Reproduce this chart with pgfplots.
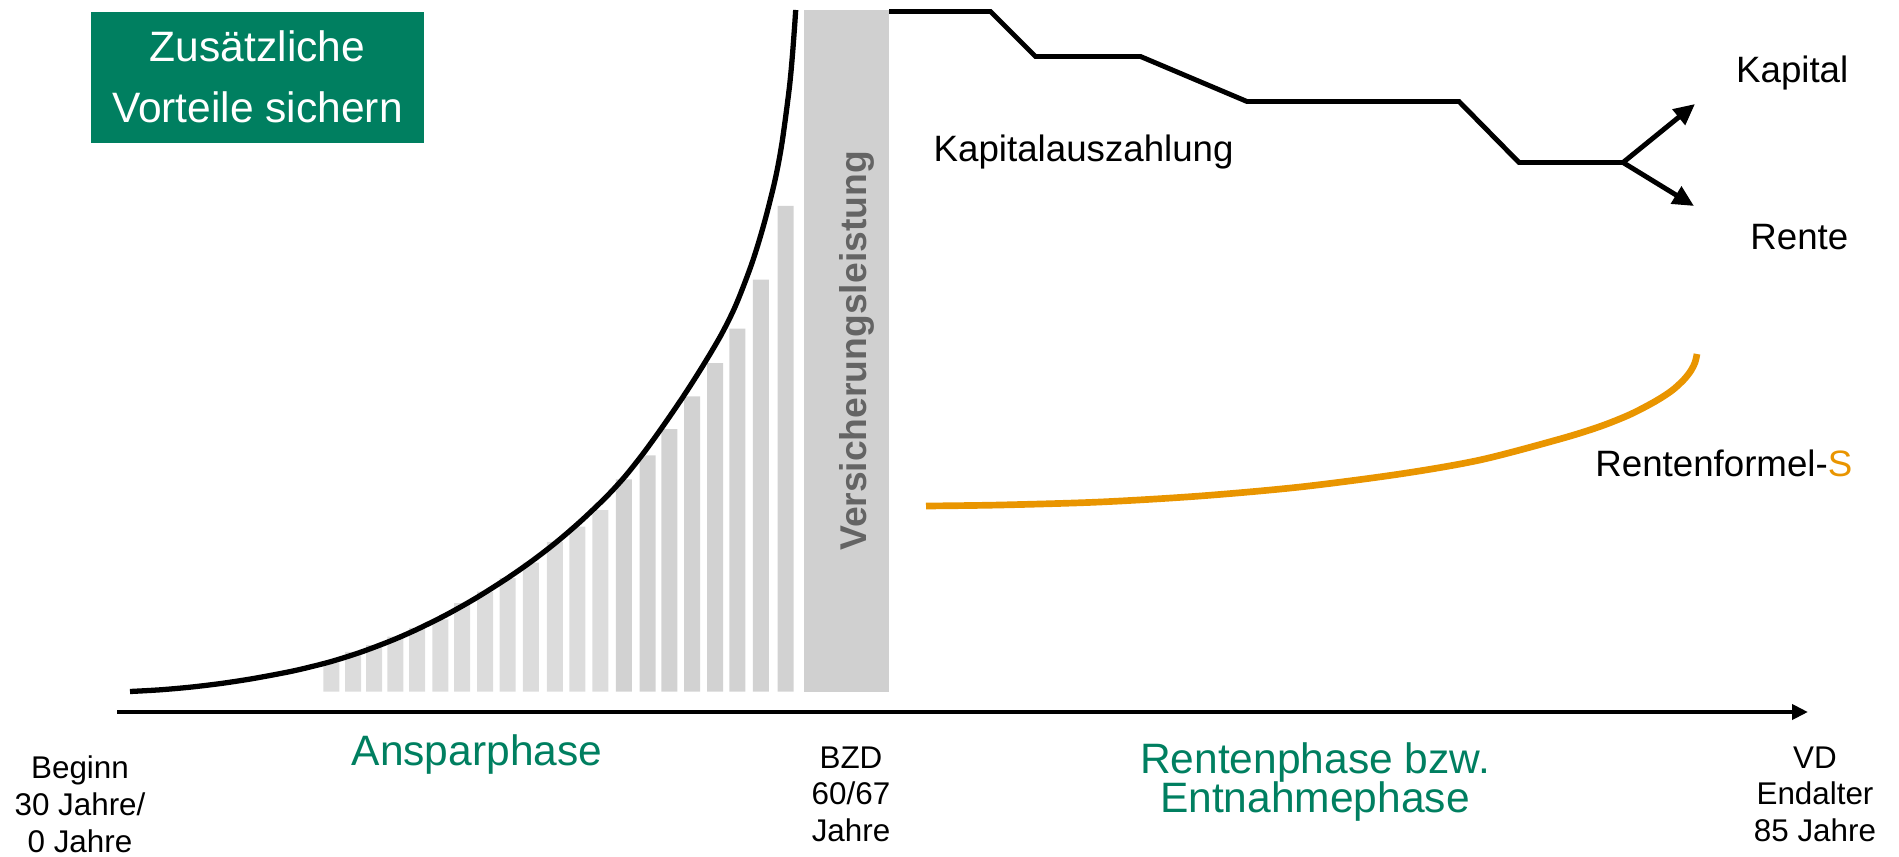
\documentclass[border=0pt]{standalone}
\usepackage{fontspec}
\setmainfont{Liberation Sans}
\usepackage{pgfplots}
\usepackage{pgfplotstable}
\pgfplotsset{compat=1.18}
\usetikzlibrary{arrows.meta}
\definecolor{sgreen}{HTML}{007F60}
\definecolor{sorange}{HTML}{E99500}
\definecolor{barA}{HTML}{DCDCDC}
\definecolor{barB}{HTML}{D2D2D2}
\definecolor{barC}{HTML}{D0D0D0}
\definecolor{vtext}{HTML}{646464}

\pgfplotstableread{
x h
331.3 29
353.1 39.6
374.1 46.4
395.3 55
417.1 63.6
440.4 72.2
462.0 88.4
485.0 99.8
507.7 113.5
530.9 129
554.9 149.6
577.4 165
600.4 181.3
}\barsA
\pgfplotstableread{
x h
623.9 212.2
647.5 236.2
669.3 262.4
692.2 295.1
715.2 328.4
737.4 362.8
760.8 412
785.5 485.6
}\barsB
\pgfplotstableread{
x h
846.5 681.5
}\bigbar
\pgfplotstableread{
x h
130 0
160 1.68
190 4.31
220 7.89
250 12.42
280 17.91
300 22.1
330 29.64
360 39.06
390 50.35
415 61.2
445 76.02
475 92.87
505 111.76
530 129.05
555 148.2
580 169.65
606 194.41
625 215.07
644 239.06
663 265.4
683 294.63
702 324.32
721 356.38
736 386.8
752 428.46
764 467.64
775 511.26
782 548.71
789 600.86
792 631.18
794.5 663.8
795.7 681.5
}\growth
\pgfplotstableread{
x h
889 680
990.5 680
1035.5 635
1140.5 635
1247 590
1459 590
1519 529
1623 529
}\steps
\pgfplotstableread{
x h
926 185.5
1000 186.5
1100 189.5
1200 195.5
1300 204.5
1400 217.5
1480 231.5
1560 252.5
1600 265
1630 277
1655 290
1672 301
1684 312
1691 321
1695 329
1697 337.5
}\rente

\begin{document}
\begin{tikzpicture}
\begin{axis}[
  width=18.99cm, height=8.56cm, scale only axis,
  hide axis, clip=false,
  xmin=0, xmax=1899, ymin=-164.5, ymax=691.5,
]
\addplot[draw=none] coordinates {(0,-164.5) (1899,691.5)};
% bars
\addplot[ybar, bar width=16, bar shift=0pt, fill=barA, draw=none] table[x=x,y=h] {\barsA};
\addplot[ybar, bar width=16, bar shift=0pt, fill=barB, draw=none] table[x=x,y=h] {\barsB};
\addplot[ybar, bar width=85, bar shift=0pt, fill=barC, draw=none] table[x=x,y=h] {\bigbar};
% growth curve
\addplot[black, line width=1.5pt, smooth, tension=0.5, mark=none] table[x=x,y=h] {\growth};
% steps
\addplot[black, line width=1.4pt, mark=none] table[x=x,y=h] {\steps};
\addplot[black, line width=1.4pt, mark=none, -{Triangle[length=6pt,width=5.5pt]}] coordinates {(1623,529) (1695,587.5)};
\addplot[black, line width=1.4pt, mark=none, -{Triangle[length=6pt,width=5.5pt]}] coordinates {(1623,529) (1694,485.5)};
% orange
\addplot[sorange, line width=1.9pt, smooth, tension=0.5, mark=none] table[x=x,y=h] {\rente};
% time axis
\addplot[black, line width=1.15pt, mark=none, -{Triangle[length=4.5pt,width=4.2pt]}] coordinates {(117,-20.5) (1808,-20.5)};

% green box
\fill[sgreen] (axis cs:91,679.5) rectangle (axis cs:424,548.5);
\node[anchor=base, inner sep=0, text=white, font=\fontsize{12.1}{14}\selectfont] at (axis cs:257.5,629.5) {Zusätzliche};
\node[anchor=base, inner sep=0, text=white, font=\fontsize{12.1}{14}\selectfont] at (axis cs:257.5,569) {Vorteile sichern};

% vertical label
\node[rotate=90, anchor=base, inner sep=0, text=vtext, font=\bfseries\fontsize{10.6}{12}\selectfont] at (axis cs:866,340.5) {Versicherungsleistung};

% right labels
\node[anchor=base west, inner sep=0, font=\fontsize{10.44}{12.5}\selectfont] at (axis cs:933,529.5) {Kapitalauszahlung};
\node[anchor=base east, inner sep=0, font=\fontsize{10.44}{12.5}\selectfont] at (axis cs:1849,608.5) {Kapital};
\node[anchor=base east, inner sep=0, font=\fontsize{10.44}{12.5}\selectfont] at (axis cs:1849,441.5) {Rente};
\node[anchor=base east, inner sep=0, font=\fontsize{10.44}{12.5}\selectfont] at (axis cs:1853,214.8) {Rentenformel-\textcolor{sorange}{S}};

% bottom labels
\node[anchor=base, inner sep=0, font=\fontsize{8.93}{10.5}\selectfont] at (axis cs:80,-86.5) {Beginn};
\node[anchor=base, inner sep=0, font=\fontsize{8.93}{10.5}\selectfont] at (axis cs:80,-123.5) {30 Jahre/};
\node[anchor=base, inner sep=0, font=\fontsize{8.93}{10.5}\selectfont] at (axis cs:80,-160.5) {0 Jahre};

\node[anchor=base, inner sep=0, font=\fontsize{8.93}{10.5}\selectfont] at (axis cs:851,-76.5) {BZD};
\node[anchor=base, inner sep=0, font=\fontsize{8.93}{10.5}\selectfont] at (axis cs:851,-113) {60/67};
\node[anchor=base, inner sep=0, font=\fontsize{8.93}{10.5}\selectfont] at (axis cs:851,-149.5) {Jahre};

\node[anchor=base, inner sep=0, font=\fontsize{8.93}{10.5}\selectfont] at (axis cs:1815,-76.5) {VD};
\node[anchor=base, inner sep=0, font=\fontsize{8.93}{10.5}\selectfont] at (axis cs:1815,-113) {Endalter};
\node[anchor=base, inner sep=0, font=\fontsize{8.93}{10.5}\selectfont] at (axis cs:1815,-149.5) {85 Jahre};

\node[anchor=base, inner sep=0, text=sgreen, font=\fontsize{12.1}{14}\selectfont] at (axis cs:477,-73.5) {Ansparphase};
\node[anchor=base, inner sep=0, text=sgreen, font=\fontsize{12.1}{13}\selectfont] at (axis cs:1315,-81.5) {Rentenphase bzw.};
\node[anchor=base, inner sep=0, text=sgreen, font=\fontsize{12.1}{13}\selectfont] at (axis cs:1315,-120.5) {Entnahmephase};
\end{axis}
\end{tikzpicture}
\end{document}
